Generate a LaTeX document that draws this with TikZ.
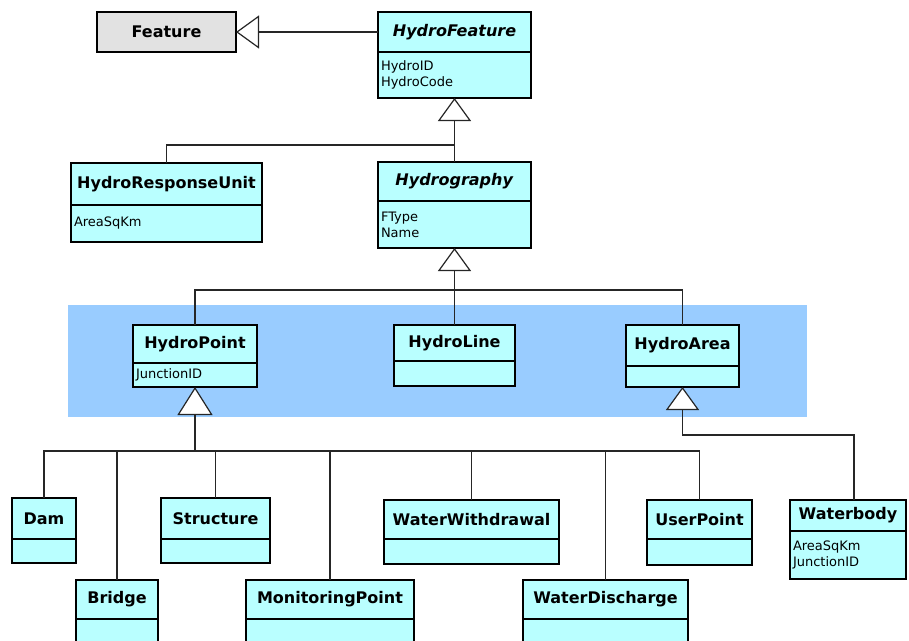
\documentclass[tikz,border=0pt]{standalone}
\usepackage{fontspec}
\setmainfont{DejaVu Sans}
\usetikzlibrary{arrows.meta}

\definecolor{classfill}{RGB}{185,255,255}
\definecolor{basefill}{RGB}{226,226,226}
\definecolor{bandfill}{RGB}{153,204,255}

\tikzset{
  classtitle/.style={draw=black, line width=1.4pt, fill=classfill, anchor=north west,
    inner sep=0pt, outer sep=0pt, font=\fontsize{16}{18}\selectfont\bfseries},
  classattr/.style={draw=black, line width=1.4pt, fill=classfill, anchor=north west,
    inner xsep=3pt, inner ysep=0pt, outer sep=0pt, align=left, font=\fontsize{13}{16}\selectfont},
  link/.style={line width=1.3pt, draw=black!85},
  gen/.style={link, -{Triangle[fill=white, length=23pt, width=33pt, line width=1.2pt]}},
  genlong/.style={link, -{Triangle[fill=white, length=28pt, width=35pt, line width=1.2pt]}},
}

% UML class: name, x, y (top-left), width, title height, attribute height, title, attributes
\newcommand{\umlclass}[8]{%
  \pgfmathsetmacro\attrtw{#4-6}%
  \node[classtitle, minimum width=#4pt, minimum height=#5pt] (#1) at (#2,#3) {#7};
  \node[classattr, minimum width=#4pt, minimum height=#6pt, text width=\attrtw pt]
    (#1-a) at (#1.south west) {#8};
}

\begin{document}
\begin{tikzpicture}[x=1pt, y=-1pt]
  \useasboundingbox (0,0) rectangle (909,640);
  \fill[white] (0,0) rectangle (909,640);
  \clip (0,0) rectangle (909,640);

  % highlighted band behind the geometry classes
  \fill[bandfill] (68,305) rectangle (807,417);

  % classes
  \node[classtitle, fill=basefill, minimum width=139pt, minimum height=40pt] (Feature) at (97,12) {Feature};
  \umlclass{HydroFeature}{378}{12}{153}{40}{46}{\textit{HydroFeature}}{HydroID\\HydroCode}
  \umlclass{HydroResponseUnit}{71}{163}{191}{42}{37}{HydroResponseUnit}{AreaSqKm}
  \umlclass{Hydrography}{378}{162}{153}{39}{47}{\textit{Hydrography}}{FType\\Name}
  \umlclass{HydroPoint}{133}{325}{124}{38}{24}{HydroPoint}{JunctionID}
  \umlclass{HydroLine}{394}{325}{121}{36}{25}{HydroLine}{}
  \umlclass{HydroArea}{626}{325}{113}{41}{21}{HydroArea}{}
  \umlclass{Dam}{12}{498}{64}{41}{24}{Dam}{}
  \umlclass{Structure}{161}{498}{109}{41}{24}{Structure}{}
  \umlclass{WaterWithdrawal}{384}{500}{175}{39}{25}{WaterWithdrawal}{}
  \umlclass{UserPoint}{647}{500}{105}{39}{26}{UserPoint}{}
  \umlclass{Waterbody}{790}{500}{116}{31}{48}{Waterbody}{AreaSqKm\\JunctionID}
  \umlclass{Bridge}{76}{580}{82}{39}{45}{Bridge}{}
  \umlclass{MonitoringPoint}{246}{580}{168}{39}{45}{MonitoringPoint}{}
  \umlclass{WaterDischarge}{523}{580}{165}{39}{45}{WaterDischarge}{}

  % junction points of the generalization trees
  \coordinate (hfbus) at (454.5,145);
  \coordinate (hgbus) at (454.5,290);
  \coordinate (hpbus) at (195,451);
  \coordinate (habus) at (682.5,435);

  % generalizations
  \draw[gen] (HydroFeature.west) -- (Feature.east);

  \draw[gen] (Hydrography.north) -- (HydroFeature-a.south);
  \draw[link] (HydroResponseUnit.north) |- (hfbus);

  \draw[gen] (HydroLine.north) -- (Hydrography-a.south);
  \draw[link] (HydroPoint.north) |- (hgbus);
  \draw[link] (HydroArea.north) |- (hgbus);

  \foreach \sub in {Dam,Bridge,Structure,MonitoringPoint,WaterWithdrawal,WaterDischarge,UserPoint}
    \draw[link] (\sub.north) |- (hpbus);
  \draw[genlong] (hpbus) -- (HydroPoint-a.south);

  \draw[gen] ([xshift=6pt]Waterbody.north) |- (habus) -- (HydroArea-a.south);
\end{tikzpicture}
\end{document}
